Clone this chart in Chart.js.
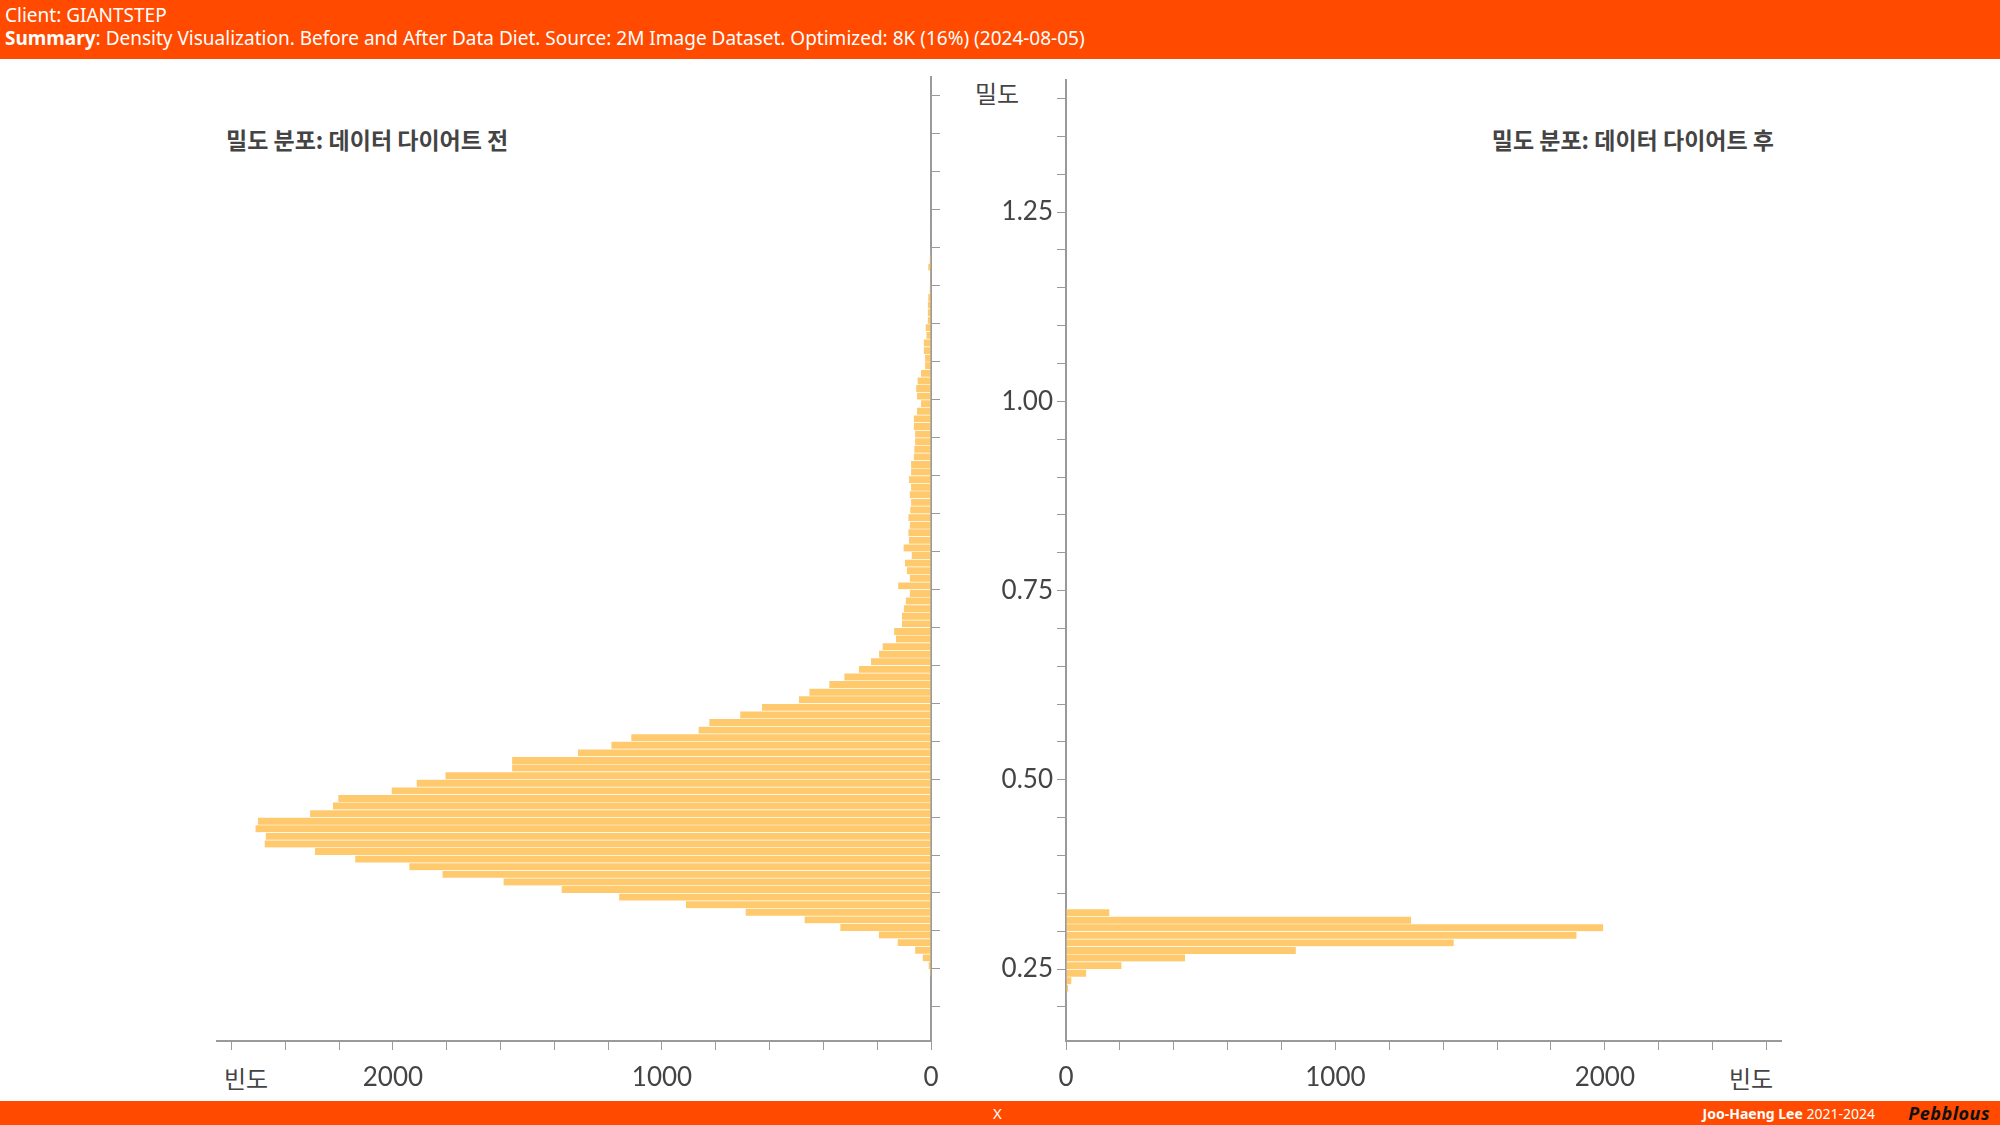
<!DOCTYPE html>
<html><head><meta charset="utf-8">
<script src="https://cdn.jsdelivr.net/npm/chart.js@4"></script>
<style>
body{margin:0;width:2000px;height:1125px;position:relative;background:#fff;font-family:"Noto Sans",sans-serif;overflow:hidden}
#hdr{position:absolute;left:0;top:0;width:2000px;height:59px;background:#FF4a00;color:#fff;font-size:19px;line-height:23px}
#hdr div{padding-left:5px}
#ftr{position:absolute;left:0;top:1101px;width:2000px;height:24px;background:#FF4a00;color:#fff;font-size:15px}
.t{position:absolute;font-family:"Noto Sans CJK KR";white-space:nowrap}
canvas{position:absolute}
</style></head><body>
<div id="hdr"><div style="padding-top:4px">Client: GIANTSTEP</div><div><b>Summary</b>: Density Visualization. Before and After Data Diet. Source: 2M Image Dataset. Optimized: 8K (16%) (2024-08-05)</div></div>
<div id="ftr"><span style="position:absolute;left:993px;top:2px">X</span><span style="position:absolute;right:125px;top:3px;font-size:14px"><b>Joo-Haeng Lee</b> 2021-2024</span><span style="position:absolute;right:10px;top:0px;font-size:18px;color:#111;font-style:italic;font-weight:bold;letter-spacing:0.5px">Pebblous</span></div>
<div class="t" style="left:226px;top:122px;font-size:23px;font-weight:bold;color:#444">밀도 분포: 데이터 다이어트 전</div>
<div class="t" style="right:226px;top:122px;font-size:23px;font-weight:bold;color:#444">밀도 분포: 데이터 다이어트 후</div>
<div class="t" style="left:975px;top:75px;font-size:24px;color:#444">밀도</div>
<div class="t" style="left:224px;top:1060px;font-size:24px;color:#444">빈도</div>
<div class="t" style="left:1729px;top:1060px;font-size:24px;color:#444">빈도</div>
<canvas id="c1" style="left:0;top:60px"></canvas>
<canvas id="c2" style="left:940px;top:60px"></canvas>
<script>
// bin start values (width 0.01)
const beforeBins = [0.24,0.25,0.26,0.27,0.28,0.29,0.30,0.31,0.32,0.33,0.34,0.35,0.36,0.37,0.38,0.39,0.40,0.41,0.42,0.43,0.44,0.45,0.46,0.47,0.48,0.49,0.50,0.51,0.52,0.53,0.54,0.55,0.56,0.57,0.58,0.59,0.60,0.61,0.62,0.63,0.64,0.65,0.66,0.67,0.68,0.69,0.70,0.71,0.72,0.73,0.74,0.75,0.76,0.77,0.78,0.79,0.80,0.81,0.82,0.83,0.84,0.85,0.86,0.87,0.88,0.89,0.90,0.91,0.92,0.93,0.94,0.95,0.96,0.97,0.98,0.99,1.00,1.01,1.02,1.03,1.04,1.05,1.06,1.07,1.08,1.09,1.10,1.11,1.12,1.13,1.14,1.15,1.16,1.17,1.18,1.19,1.20,1.21,1.22];
const beforeCounts = [4,9,31,59,124,194,337,470,689,911,1159,1373,1589,1816,1939,2140,2290,2477,2473,2511,2502,2308,2223,2203,2005,1912,1805,1557,1557,1312,1188,1114,864,824,709,628,491,452,378,322,268,223,193,180,130,137,108,108,101,94,79,122,79,90,97,72,102,82,84,79,84,77,74,79,74,82,74,74,64,62,59,59,64,64,52,37,52,55,50,37,22,22,27,27,17,20,12,12,12,10,5,3,3,10,5,1,0,0,2];
const afterBins = [0.21,0.22,0.23,0.24,0.25,0.26,0.27,0.28,0.29,0.30,0.31,0.32];
const afterCounts = [1,8,20,75,206,442,853,1439,1895,1994,1281,161];
const xTicks = [0,200,400,600,800,1000,1200,1400,1600,1800,2000,2200,2400,2600];
const xLabels = [0,1000,2000];
const yLabels = [0.25,0.5,0.75,1.0,1.25];

const W=0.01, YMIN=0.155, YMAX=1.425, XMAX=2654;
const BAR='#FFCA6E', AX='#9a9a9a', TXT='#444';
const FONT={family:'Lato',size:26};

function pts(b,c){return b.map((v,i)=>({y:+(v+W/2).toFixed(3),x:c[i]}));}
function yTickList(){const a=[];for(let k=4;k<=28;k++)a.push({value:+(k*0.05).toFixed(2)});return a;}
function isLab(v){return yLabels.some(l=>Math.abs(l-v)<1e-6);}

function make(id, w, data, left){
  const cv=document.getElementById(id);cv.width=w;cv.height=1040;
  return new Chart(cv,{type:'bar',
    data:{datasets:[{data:data,backgroundColor:BAR,borderColor:'rgba(255,255,255,0.7)',borderWidth:{top:1,bottom:0,left:0,right:0},borderSkipped:false,categoryPercentage:1,barPercentage:1}]},
    options:{indexAxis:'y',responsive:false,animation:false,
      layout:{padding:left?{left:217,top:17,right:0,bottom:0}:{left:0,top:17,right:219,bottom:0}},
      plugins:{legend:{display:false},tooltip:{enabled:false}},
      scales:{
        x:{type:'linear',min:0,max:XMAX,reverse:left,
          afterBuildTicks:s=>{s.ticks=xTicks.map(v=>({value:v}));},
          afterFit:s=>{s.height=59;},
          border:{color:AX,width:2},
          grid:{drawOnChartArea:false,color:AX,tickLength:9},
          ticks:{autoSkip:false,maxRotation:0,padding:12,color:TXT,font:FONT,callback:v=>xLabels.includes(v)?String(v):''}},
        y:{type:'linear',min:YMIN,max:YMAX,offset:false,position:left?'right':'left',
          afterBuildTicks:s=>{s.ticks=yTickList();},
          afterFit:s=>{s.width=left?69:126;},
          border:{color:AX,width:2},
          grid:{drawOnChartArea:false,offset:false,color:AX,tickLength:9},
          ticks:{display:!left,autoSkip:false,crossAlign:'center',padding:4,color:TXT,font:FONT,
            callback:v=>isLab(v)?v.toFixed(2):''}}
      }}});
}
make('c1',1000,pts(beforeBins,beforeCounts),true);
make('c2',1060,pts(afterBins,afterCounts),false);
</script></body></html>
